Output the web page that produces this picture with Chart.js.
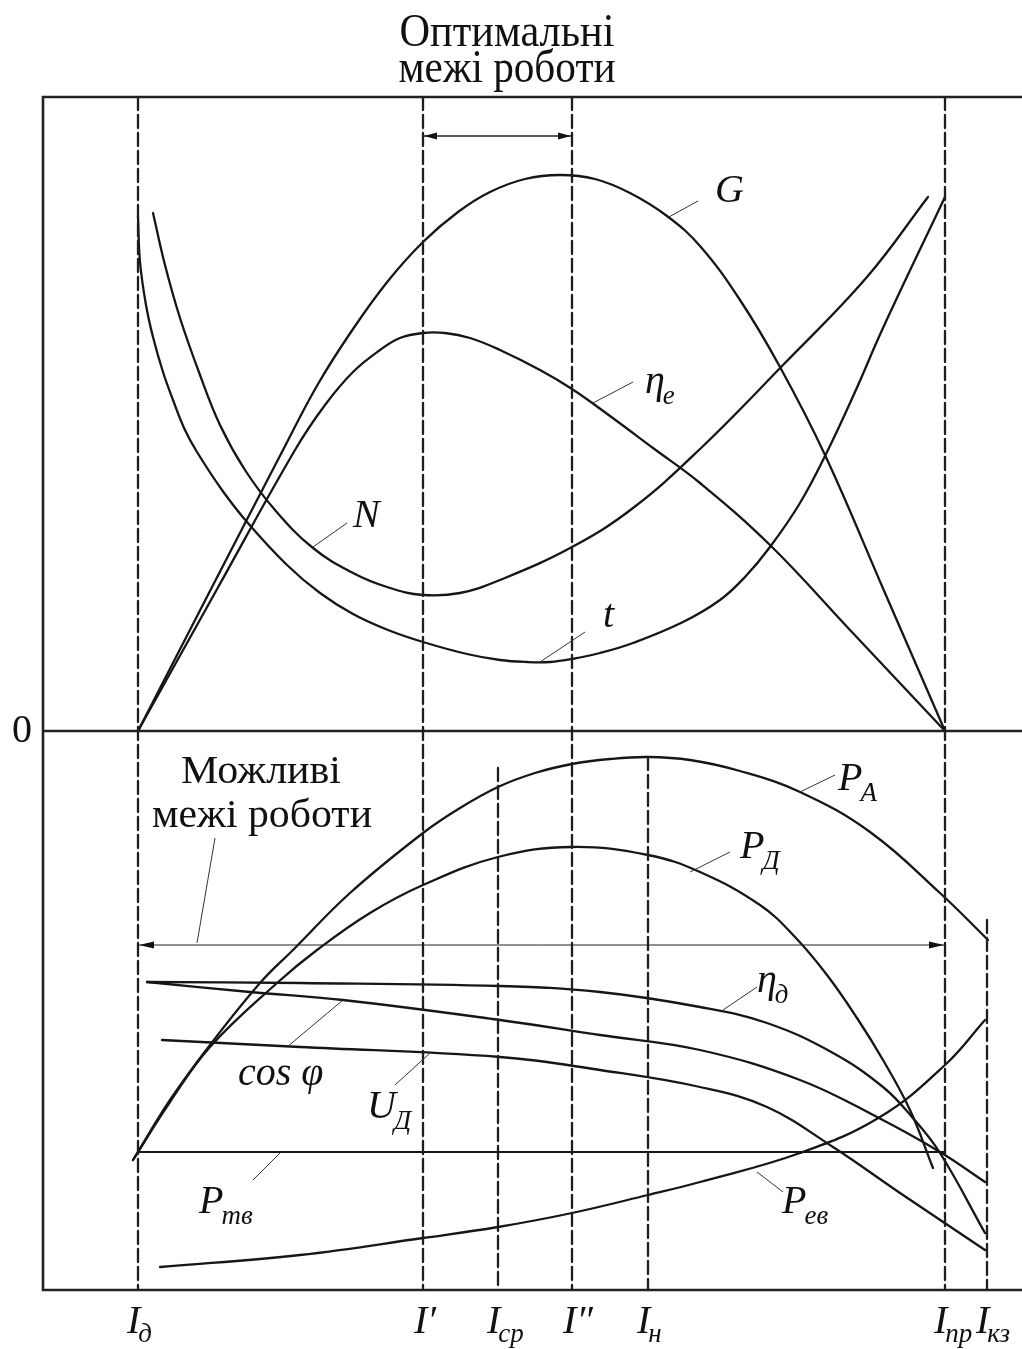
<!DOCTYPE html>
<html>
<head>
<meta charset="utf-8">
<script src="https://cdn.jsdelivr.net/npm/chart.js@4.4.1/dist/chart.umd.min.js"></script>
<style>
  html, body { margin: 0; padding: 0; background: #ffffff; }
  #wrap { width: 1022px; height: 1349px; position: relative; }
</style>
</head>
<body>
<div id="wrap"><canvas id="c" width="1022" height="1349"></canvas></div>
<script>
// ---------- DATA (arbitrary units, x = current, y = value; 0 = zero line) ----------
// Characteristic currents (tick marks on the current axis)
const tickNames = ['д', '′', 'ср', '″', 'н', 'пр', 'кз'];
const tickX     = [0, 285, 360, 434, 510, 807, 849];
const tickTop   = [634, 634, -37, 634, -26, 634, -189];   // upper end of each dashed line
const axisBottom = -559;

// Upper panel curves
const curveG    = [[0,0],[72,140],[145,281],[180,347],[215,402],[250,450],[285,489],[320,519],[352,539],[387,552],[422,556],[457,552],[492,538],[529,515],[562,485],[602,431],[642,364],[687,276],[747,138],[807,0]];
const curveEtaE = [[0,0],[78,140],[157,281],[187,326],[215,359],[242,381],[262,393],[285,398],[307,398],[332,393],[362,381],[402,361],[434,342],[472,315],[515,283],[562,248],[632,186],[712,101],[807,0]];
const curveN    = [[15,518],[27,466],[42,413],[62,356],[82,306],[107,261],[137,221],[175,183],[215,158],[249,144],[285,136],[322,138],[362,151],[434,184],[495,223],[562,282],[645,366],[729,454],[790,534]];
const curveT    = [[0,514],[2,469],[8,426],[15,394],[25,359],[35,331],[47,301],[59,279],[84,241],[109,209],[149,166],[182,138],[215,117],[250,101],[285,89],[329,77],[362,71],[389,69],[412,69],[434,72],[462,78],[495,88],[545,109],[582,131],[607,154],[632,184],[662,228],[689,279],[717,339],[745,403],[807,534]];

// Lower panel curves
const curvePA   = [[-5,-429],[32,-369],[72,-314],[122,-252],[155,-219],[212,-162],[285,-102],[322,-77],[360,-56],[397,-42],[434,-33],[472,-28],[510,-26],[552,-29],[602,-40],[662,-61],[732,-101],[802,-162],[850,-209]];
const curvePD   = [[-5,-429],[32,-371],[72,-316],[139,-252],[179,-219],[232,-182],[285,-154],[360,-126],[434,-116],[510,-124],[562,-141],[622,-174],[657,-206],[689,-244],[719,-287],[745,-329],[772,-379],[795,-437]];
const curveEtaD = [[9,-251],[162,-252],[362,-255],[462,-261],[562,-276],[629,-292],[695,-322],[745,-356],[774,-386],[802,-422],[847,-502]];
const curveCos  = [[9,-251],[112,-261],[205,-269],[362,-289],[462,-304],[562,-319],[662,-349],[739,-386],[802,-421],[847,-451]];
const curveUD   = [[24,-309],[162,-316],[362,-326],[462,-339],[562,-356],[629,-376],[695,-416],[762,-462],[847,-519]];
const curvePev  = [[22,-536],[162,-524],[285,-507],[360,-496],[434,-482],[510,-464],[562,-451],[662,-422],[742,-386],[807,-334],[847,-289]];
const curvePtv  = [[0,-421],[807,-421]];

// Range arrows: [xStart, xEnd, y]
const optimalRange  = [285, 434, 595];
const possibleRange = [0, 807, -214];

// Curve labels: [main, subscript, x, y(baseline)]
const curveLabels = [
  ['G', '', 577, 529],
  ['η', 'e', 507, 338],
  ['N', '', 215, 204],
  ['t', '', 465, 104],
  ['P', 'A', 700, -59],
  ['P', 'Д', 602, -127],
  ['η', 'д', 619, -261],
  ['cos φ', '', 100, -354],
  ['U', 'Д', 229, -387],
  ['P', 'тв', 61, -482],
  ['P', 'ев', 644, -482]
];
// Leader lines: [x1, y1, x2, y2]
const leaders = [
  [529,513,560,530],[455,328,495,349],[175,184,209,208],[402,69,447,99],
  [662,-61,697,-44],[552,-141,592,-121],[585,-279,619,-256],
  [205,-269,149,-316],[292,-322,257,-354],[142,-422,115,-449],[619,-441,645,-461],
  [77,-107,59,-212]
];

// ---------- CHART ----------
const toXY = arr => arr.map(p => ({x: p[0], y: p[1]}));
const INK = '#161616';

function curve(data, w) {
  return { data: toXY(data), borderColor: INK, borderWidth: w || 2.3, pointRadius: 0,
           fill: false, tension: 0.4 };
}
const datasets = [];
tickX.forEach((x, i) => {
  datasets.push({ data: [{x: x, y: tickTop[i]}, {x: x, y: axisBottom}], borderColor: '#1e1e1e',
                  borderWidth: 2.3, borderDash: [13, 5], pointRadius: 0, fill: false, tension: 0 });
});
[curveG, curveEtaE, curveN, curveT, curvePA, curvePD, curveEtaD, curveCos, curveUD, curvePev].forEach(c => datasets.push(curve(c)));
datasets.push(curve(curvePtv, 1.8));

const SERIF = '"Liberation Serif", "DejaVu Serif", serif';

function fitText(ctx, s, cx, y, font, width) {
  ctx.font = font;
  ctx.textAlign = 'center';
  const w = ctx.measureText(s).width;
  ctx.save();
  ctx.translate(cx, y);
  ctx.scale(width / w, 1);
  ctx.fillText(s, 0, 0);
  ctx.restore();
}
function subText(ctx, main, sub, x, y, size, subSize, subDy) {
  ctx.textAlign = 'left';
  ctx.font = 'italic ' + size + 'px ' + SERIF;
  ctx.fillText(main, x, y);
  const w = ctx.measureText(main).width;
  if (sub) {
    ctx.font = 'italic ' + subSize + 'px ' + SERIF;
    ctx.fillText(sub, x + w - 2, y + subDy);
  }
}
function arrowHead(ctx, x, y, dir, len, half) {
  ctx.beginPath();
  ctx.moveTo(x, y);
  ctx.lineTo(x - dir * len, y - half);
  ctx.lineTo(x - dir * len, y + half);
  ctx.closePath();
  ctx.fill();
}

const deco = {
  id: 'deco',
  beforeDatasetsDraw(chart) {
    const ctx = chart.ctx, a = chart.chartArea, ys = chart.scales.y;
    ctx.save();
    ctx.strokeStyle = '#222';
    ctx.lineWidth = 2.6;
    ctx.beginPath();
    ctx.moveTo(a.right, a.top); ctx.lineTo(a.left, a.top); ctx.lineTo(a.left, a.bottom); ctx.lineTo(a.right, a.bottom);
    const y0 = ys.getPixelForValue(0);
    ctx.moveTo(a.left, y0); ctx.lineTo(a.right, y0);
    ctx.stroke();
    ctx.restore();
  },
  afterDatasetsDraw(chart) {
    const ctx = chart.ctx, xs = chart.scales.x, ys = chart.scales.y;
    const X = v => xs.getPixelForValue(v), Y = v => ys.getPixelForValue(v);
    ctx.save();
    ctx.fillStyle = '#111';
    ctx.strokeStyle = '#333';
    // leaders
    ctx.lineWidth = 1;
    leaders.forEach(l => { ctx.beginPath(); ctx.moveTo(X(l[0]), Y(l[1])); ctx.lineTo(X(l[2]), Y(l[3])); ctx.stroke(); });
    // range arrows
    ctx.strokeStyle = '#222';
    ctx.lineWidth = 1.5;
    let r = optimalRange;
    ctx.beginPath(); ctx.moveTo(X(r[0]), Y(r[2])); ctx.lineTo(X(r[1]), Y(r[2])); ctx.stroke();
    arrowHead(ctx, X(r[0]) + 1, Y(r[2]), -1, 13, 3.5);
    arrowHead(ctx, X(r[1]) - 1, Y(r[2]), 1, 13, 3.5);
    r = possibleRange;
    ctx.lineWidth = 1;
    ctx.beginPath(); ctx.moveTo(X(r[0]), Y(r[2])); ctx.lineTo(X(r[1]), Y(r[2])); ctx.stroke();
    arrowHead(ctx, X(r[0]) + 1, Y(r[2]), -1, 15, 3.5);
    arrowHead(ctx, X(r[1]) - 1, Y(r[2]), 1, 15, 3.5);

    // curve labels
    ctx.textBaseline = 'alphabetic';
    curveLabels.forEach(l => subText(ctx, l[0], l[1], X(l[2]), Y(l[3]), 40, 27, 11));

    // current-axis labels
    const base = chart.chartArea.bottom + 43;
    tickNames.forEach((n, i) => {
      const px = X(tickX[i]);
      if (n === '′' || n === '″') {
        ctx.font = 'italic 40px ' + SERIF; ctx.textAlign = 'left';
        ctx.fillText('I' + n, px - 9, base);
      } else {
        subText(ctx, 'I', n, px - 11, base, 40, 27, 9);
      }
    });

    // zero label
    ctx.font = '40px ' + SERIF; ctx.textAlign = 'center'; ctx.textBaseline = 'middle';
    ctx.fillText('0', X(-116), Y(0));
    ctx.textBaseline = 'alphabetic';

    // titles
    fitText(ctx, 'Оптимальні', 507, 46, '46px ' + SERIF, 215);
    fitText(ctx, 'межі роботи', 507, 82, '46px ' + SERIF, 217);
    fitText(ctx, 'Можливі', X(123), Y(-52), '40px ' + SERIF, 160);
    fitText(ctx, 'межі роботи', X(124), Y(-96), '40px ' + SERIF, 220);
    ctx.restore();
  }
};

new Chart(document.getElementById('c'), {
  type: 'line',
  data: { datasets: datasets },
  options: {
    responsive: false,
    animation: false,
    devicePixelRatio: 1,
    layout: { padding: { left: 43, right: 0, top: 97, bottom: 59 } },
    plugins: { legend: { display: false }, tooltip: { enabled: false }, title: { display: false } },
    scales: {
      x: { type: 'linear', min: -95, max: 884, display: false },
      y: { type: 'linear', min: -559, max: 634, display: false }
    },
    elements: { line: { borderCapStyle: 'round' } }
  },
  plugins: [deco]
});
</script>
</body>
</html>
